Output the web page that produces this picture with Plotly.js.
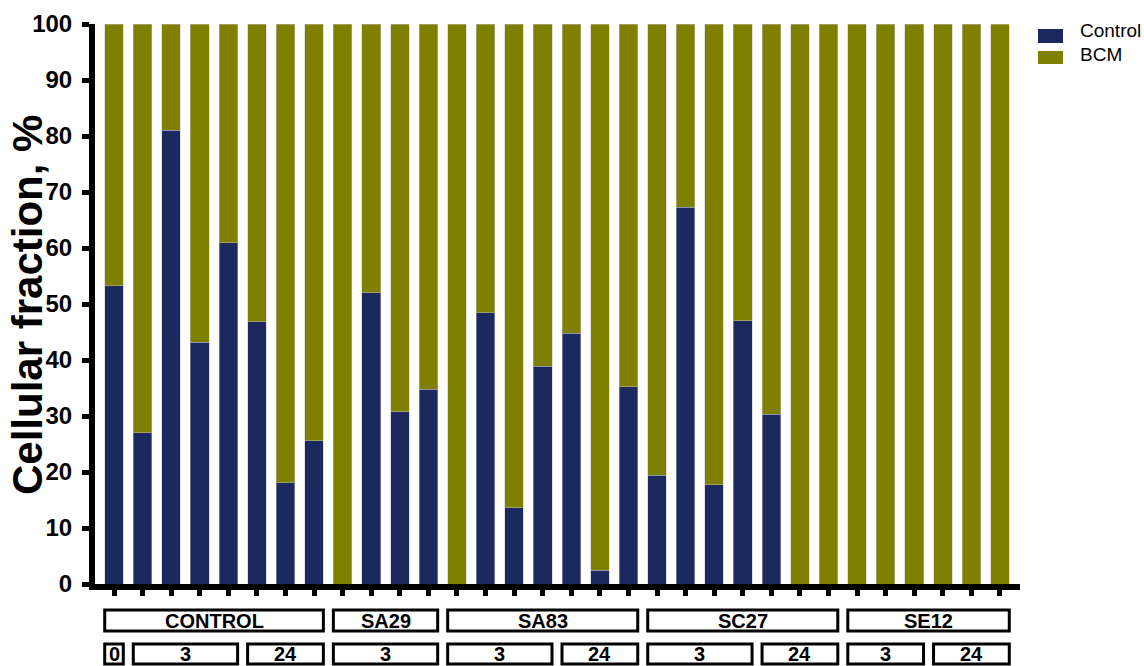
<!DOCTYPE html>
<html>
<head>
<meta charset="utf-8">
<script src="https://cdn.plot.ly/plotly-3.0.1.min.js"></script>
<style>
  html, body { margin: 0; padding: 0; background: #ffffff; }
  #chart { width: 1144px; height: 666px; }
</style>
</head>
<body>
<div id="chart"></div>
<script>
// Strain groups and sampling times under the bars
const groupNames = ['CONTROL', 'SA29', 'SA83', 'SC27', 'SE12'];
const groupSizes = [8, 4, 7, 7, 6];
const timeLabels = ['0', '3', '24', '3', '3', '24', '3', '24', '3', '24'];
const timeSizes  = [1, 4, 3, 4, 4, 3, 4, 3, 3, 3];

// Cellular fraction (%) per sample
const seriesNames = ['Control', 'BCM'];
const controlPct = [53.3, 27.0, 81.0, 43.2, 60.9, 46.8, 18.1, 25.6,
                    0, 52.0, 30.8, 34.8,
                    0, 48.4, 13.6, 38.9, 44.8, 2.5, 35.2,
                    19.4, 67.3, 17.7, 47.0, 30.3, 0, 0,
                    0, 0, 0, 0, 0, 0];
const bcmPct = [46.7, 73.0, 19.0, 56.8, 39.1, 53.2, 81.9, 74.4,
                100, 48.0, 69.2, 65.2,
                100, 51.6, 86.4, 61.1, 55.2, 97.5, 64.8,
                80.6, 32.7, 82.3, 53.0, 69.7, 100, 100,
                100, 100, 100, 100, 100, 100];

const colors = ['#1b295e', '#808000'];
const FONT = 'Arial, "Liberation Sans", Helvetica, sans-serif';

// plot area in pixels
const L = 95, T = 24, PW = 925, PH = 560;
const px = v => (v - L) / PW;       // pixel x -> paper
const py = v => (T + PH - v) / PH;  // pixel y -> paper

const idx = controlPct.map((_, i) => i);
const BAR_W = 0.65;

const traces = [controlPct, bcmPct].map((vals, k) => ({
  type: 'bar',
  x: idx,
  y: vals,
  name: seriesNames[k],
  width: BAR_W,
  marker: { color: colors[k], line: { color: 'rgba(190,190,200,0.8)', width: 0.6 } },
  showlegend: false,
  hoverinfo: 'y+name'
}));

const shapes = [];
const annotations = [];

// bracket boxes: one row for strains, one for times
function boxRow(labels, sizes, yTop, yBot) {
  let start = 0;
  labels.forEach((lab, i) => {
    const end = start + sizes[i] - 1;
    shapes.push({
      type: 'rect', xref: 'x', yref: 'paper',
      x0: start - BAR_W / 2, x1: end + BAR_W / 2,
      y0: py(yBot), y1: py(yTop),
      line: { color: '#000', width: 3 }, fillcolor: '#fff', layer: 'above'
    });
    annotations.push({
      xref: 'x', yref: 'paper', x: (start + end) / 2, y: py((yTop + yBot) / 2 + 0.5),
      text: lab, showarrow: false, xanchor: 'center', yanchor: 'middle',
      font: { family: FONT, size: 20, color: '#000', weight: 700 }
    });
    start = end + 1;
  });
}
boxRow(groupNames, groupSizes, 610, 631);
boxRow(timeLabels, timeSizes, 644, 664);

// legend
const legendRows = [[29, 43, 31], [51, 64, 54]];
seriesNames.forEach((nm, k) => {
  const r = legendRows[k];
  shapes.push({
    type: 'rect', xref: 'paper', yref: 'paper',
    x0: px(1038), x1: px(1063), y0: py(r[1]), y1: py(r[0]),
    line: { width: 0 }, fillcolor: colors[k]
  });
  annotations.push({
    xref: 'paper', yref: 'paper', x: px(1078), y: py(r[2]),
    text: nm, showarrow: false, xanchor: 'left', yanchor: 'middle',
    font: { family: FONT, size: 19, color: '#000' }
  });
});

// y axis title
annotations.push({
  xref: 'paper', yref: 'paper', x: px(27), y: py(305),
  text: 'Cellular fraction, %', textangle: -90, showarrow: false,
  xanchor: 'center', yanchor: 'middle',
  font: { family: FONT, size: 42, color: '#000', weight: 700 }
});

const layout = {
  width: 1144, height: 666,
  margin: { l: L, r: 1144 - L - PW, t: T, b: 666 - T - PH, pad: 0 },
  paper_bgcolor: '#fff', plot_bgcolor: '#fff',
  barmode: 'stack',
  bargap: 0,
  showlegend: false,
  xaxis: {
    range: [-0.665, 31.70],
    tickvals: idx, showticklabels: false,
    ticks: 'outside', ticklen: 6, tickwidth: 5, tickcolor: '#000',
    showline: true, linewidth: 6, linecolor: '#000',
    showgrid: false, zeroline: false, fixedrange: true
  },
  yaxis: {
    range: [0, 100], dtick: 10, tick0: 0,
    ticks: 'outside', ticklen: 7, tickwidth: 5, tickcolor: '#000',
    showline: true, linewidth: 6, linecolor: '#000',
    showgrid: false, zeroline: false, fixedrange: true,
    ticklabelstandoff: 5,
    tickfont: { family: FONT, size: 24, color: '#000', weight: 700 }
  },
  shapes: shapes,
  annotations: annotations
};

Plotly.newPlot('chart', traces, layout, { displayModeBar: false, staticPlot: true });
</script>
</body>
</html>
